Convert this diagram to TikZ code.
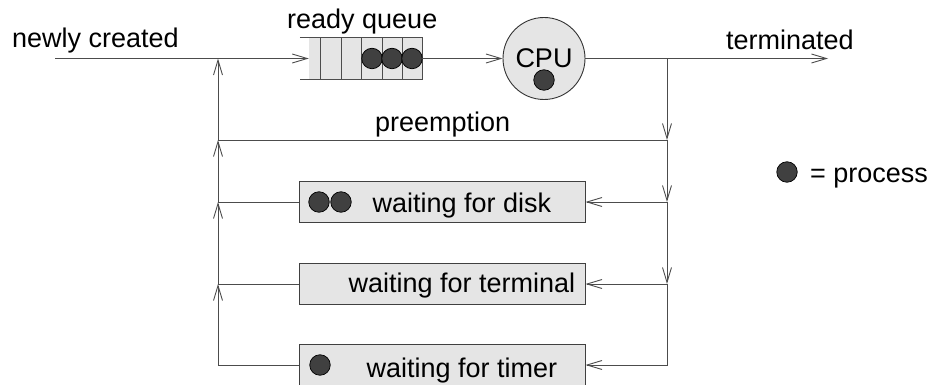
\documentclass[tikz,border=0pt]{standalone}
\usepackage{fontspec}
\setmainfont{Liberation Sans}
\usetikzlibrary{arrows.meta}
\usetikzlibrary{positioning}

\begin{document}
\begin{tikzpicture}[x=1pt,y=-1pt,
      font=\fontsize{27}{32}\selectfont,
      wire/.style={draw=black!70,line width=0.9pt},
      arr/.style={wire,-{Straight Barb[length=15pt,width=9pt]}},
      wbox/.style={draw=black!75,line width=0.9pt,fill=black!10,
        minimum width=286pt,minimum height=41pt,inner sep=0pt},
      proc/.style={circle,draw=black,line width=0.7pt,fill=black!75,
        minimum size=20.5pt,inner sep=0pt},
      txt/.style={anchor=base west,inner sep=0pt},
      ]
      \useasboundingbox (0,0) rectangle (930,385);
      \node[txt] (new) at (12,48) {newly created};
      \node[txt] (rq) at (287,29) {ready queue};
      \node[txt] (term) at (726,50) {terminated};
      \node[txt] (pre) at (375,132) {preemption};
      \node[txt] (eqp) at (810,183) {= process};

      \node[fill=black!10,minimum width=113pt,minimum height=41pt,inner sep=0pt]
        (queue) at (365.5,58.5) {};
      \draw[wire] ([xshift=-9pt]queue.north west) -- (queue.north east)
        -- (queue.south east) -- ([xshift=-9pt]queue.south west);
      \foreach \x in {320,341,361,382,402}
        \draw[wire] (\x,38) -- (\x,79);
      \foreach \x/\n in {372/q1,392/q2,412/q3}
        \node[proc] (\n) at (\x,58.5) {};

      \node[circle,draw=black!80,line width=0.9pt,fill=black!10,
        minimum size=82pt,inner sep=0pt] (cpu) at (544,58.5) {};
      \node[anchor=base,inner sep=0pt] (cpulbl) at (544,68) {CPU};
      \node[proc] (run) at (544,80) {};

      \node[wbox] (disk) at (442,202) {};
      \node[wbox] (termb) at (442,284) {};
      \node[wbox] (timer) at (442,365) {};
      \node[anchor=base,inner sep=0pt] (disklbl) at (462,212) {waiting for disk};
      \node[anchor=base,inner sep=0pt] (termlbl) at (462,292) {waiting for terminal};
      \node[anchor=base,inner sep=0pt] (timerlbl) at (462,377) {waiting for timer};
      \node[proc] (d1) at (319,202) {};
      \node[proc] (d2) at (341,202) {};
      \node[proc] (t1) at (320,365) {};
      \node[proc] (key) at (787,172) {};

      \coordinate (in) at (55,58.5);
      \coordinate (out) at (828,58.5);
      \coordinate (split) at (667,58.5);
      \coordinate (join) at (218,58.5);
      \coordinate (pr) at (667,140);
      \coordinate (pl) at (218,140);

      \draw[arr] (in) -- (queue.west);
      \draw[arr] (queue.east) -- (cpu.west);
      \draw[arr] (cpu.east) -- (out);

      \draw[arr] (split) -- (pr);
      \draw[arr] (pr) -- (split |- disk);
      \draw[arr] (split |- disk) -- (split |- termb);
      \draw[arr] (split |- disk) -- (disk.east);
      \draw[arr] (split |- termb) -- (termb.east);
      \draw[arr] (split |- termb) -- (split |- timer) -- (timer.east);

      \draw[arr] (pr) -- (pl) -- (join);
      \draw[arr] (disk.west) -- (join |- disk) -- (pl);
      \draw[arr] (termb.west) -- (join |- termb) -- (join |- disk);
      \draw[arr] (timer.west) -- (join |- timer) -- (join |- termb);
    \end{tikzpicture}
\end{document}
